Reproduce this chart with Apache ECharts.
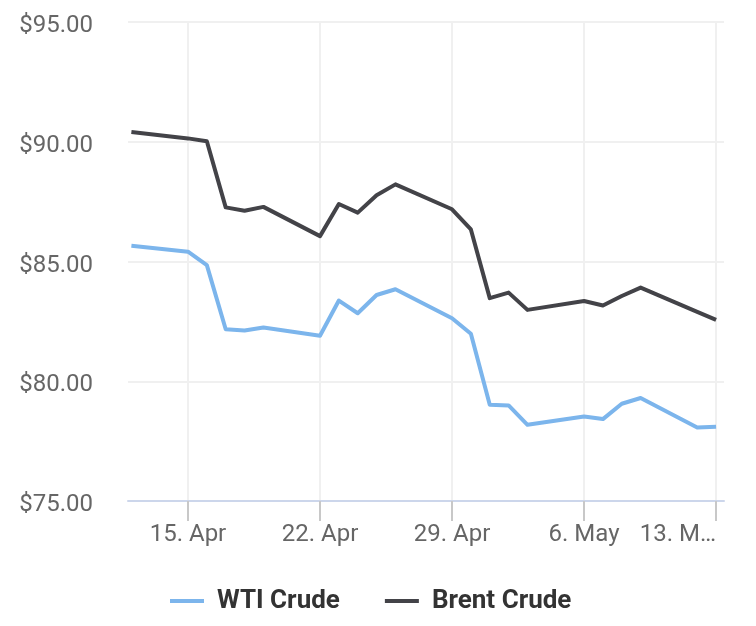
<!DOCTYPE html>
<html>
<head>
<meta charset="utf-8">
<script src="https://cdn.jsdelivr.net/npm/echarts@6/dist/echarts.min.js"></script>
<style>
    html, body { margin: 0; padding: 0; background: #fff; }
    #chart { width: 756px; height: 626px; }
</style>
</head>
<body>
<div id="chart"></div>
<script>
// trading days shown on the chart
const dates = [
    '2024-04-12', '2024-04-15', '2024-04-16', '2024-04-17', '2024-04-18', '2024-04-19',
    '2024-04-22', '2024-04-23', '2024-04-24', '2024-04-25', '2024-04-26',
    '2024-04-29', '2024-04-30', '2024-05-01', '2024-05-02', '2024-05-03',
    '2024-05-06', '2024-05-07', '2024-05-08', '2024-05-09',
    '2024-05-12', '2024-05-13'
];
const wti = [
    85.66, 85.41, 84.85, 82.17, 82.12, 82.24,
    81.90, 83.37, 82.84, 83.60, 83.84,
    82.63, 81.98, 79.02, 78.99, 78.18,
    78.53, 78.42, 79.06, 79.30,
    78.07, 78.10
];
const brent = [
    90.41, 90.14, 90.02, 87.26, 87.12, 87.28,
    86.06, 87.40, 87.04, 87.77, 88.22,
    87.18, 86.34, 83.47, 83.70, 82.98,
    83.35, 83.16, 83.56, 83.91,
    82.90, 82.56
];
const tickDates = ['2024-04-15', '2024-04-22', '2024-04-29', '2024-05-06', '2024-05-13'];
const tickLabels = ['15. Apr', '22. Apr', '29. Apr', '6. May', '13. M…'];
const yTicks = [75, 80, 85, 90, 95];

// x values as days counted from the first tick date
const DAY = 86400000;
const base = Date.parse(tickDates[0] + 'T00:00:00Z');
const dayOf = s => (Date.parse(s + 'T00:00:00Z') - base) / DAY;
const tickValues = tickDates.map(dayOf);

const chart = echarts.init(document.getElementById('chart'));
chart.setOption({
    animation: false,
    backgroundColor: '#fff',
    textStyle: { fontFamily: 'Roboto' },
    grid: {
        left: 128,
        right: 32,
        top: 22,
        bottom: 125,
        outerBoundsMode: 'none'
    },
    legend: {
        left: 170,
        top: 588,
        padding: 0,
        itemGap: 45,
        itemWidth: 34,
        itemHeight: 4,
        icon: 'rect',
        textStyle: {
            fontFamily: 'Roboto',
            fontSize: 26,
            fontWeight: 'bold',
            color: '#333',
            padding: [0, 0, 0, 8]
        },
        data: ['WTI Crude', 'Brent Crude']
    },
    xAxis: {
        type: 'value',
        min: dayOf(dates[0]) - 0.18,
        max: dayOf(dates[dates.length - 1]) + 0.42,
        axisLine: { show: true, lineStyle: { color: '#ccd6eb', width: 2 } },
        axisTick: {
            show: true,
            customValues: tickValues,
            length: 20,
            lineStyle: { color: '#c8c8c8', width: 2 }
        },
        axisLabel: {
            customValues: tickValues,
            fontSize: 24,
            color: '#666',
            margin: 22,
            alignMaxLabel: 'right',
            formatter: v => tickLabels[tickValues.indexOf(v)] || ''
        },
        splitLine: { show: true, lineStyle: { color: '#f0f0f0', width: 2 } }
    },
    yAxis: {
        type: 'value',
        min: yTicks[0],
        max: yTicks[yTicks.length - 1],
        interval: 5,
        axisLine: { show: false },
        axisTick: { show: false },
        axisLabel: {
            fontSize: 24,
            color: '#666',
            margin: 35,
            verticalAlign: 'top',
            lineHeight: 8,
            formatter: v => '$' + v.toFixed(2)
        },
        splitLine: { lineStyle: { color: '#f0f0f0', width: 2 } }
    },
    series: [
        {
            name: 'WTI Crude',
            type: 'line',
            showSymbol: false,
            color: '#7cb5ec',
            lineStyle: { width: 4, color: '#7cb5ec', join: 'round' },
            data: dates.map((d, i) => [dayOf(d), wti[i]])
        },
        {
            name: 'Brent Crude',
            type: 'line',
            showSymbol: false,
            color: '#434348',
            lineStyle: { width: 4, color: '#434348', join: 'round' },
            data: dates.map((d, i) => [dayOf(d), brent[i]])
        }
    ]
});
</script>
</body>
</html>
